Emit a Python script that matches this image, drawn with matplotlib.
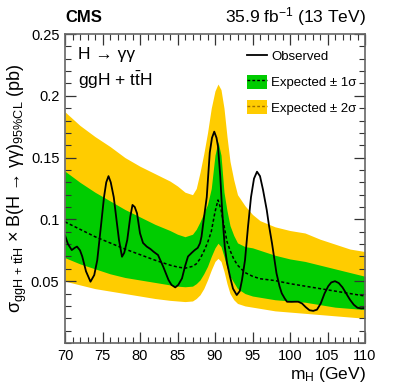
import numpy as np
import matplotlib
matplotlib.use('Agg')
import matplotlib.pyplot as plt
from matplotlib.patches import Patch
from matplotlib.lines import Line2D
from matplotlib.ticker import MultipleLocator

plt.rcParams['font.family'] = ['Liberation Sans', 'DejaVu Sans']
plt.rcParams['mathtext.fontset'] = 'custom'
plt.rcParams['mathtext.rm'] = 'Liberation Sans'
plt.rcParams['mathtext.it'] = 'Liberation Sans:italic'
plt.rcParams['mathtext.bf'] = 'Liberation Sans:bold'

# expected limit bands
band_mass = [70, 72, 74, 76, 78, 80, 82, 84, 85, 86, 87, 87.5, 88, 88.5, 89, 89.5, 90, 90.4,
             90.8, 91.2, 91.6, 92, 92.5, 93, 94, 95, 96, 98, 100, 102, 104, 106, 108, 110]
two_sigma_up = [0.187, 0.176, 0.167, 0.159, 0.150, 0.143, 0.137, 0.131, 0.127, 0.122, 0.120, 0.125,
                0.138, 0.153, 0.170, 0.190, 0.204, 0.2095, 0.205, 0.190, 0.167, 0.147, 0.132, 0.120,
                0.111, 0.104, 0.099, 0.094, 0.091, 0.089, 0.084, 0.080, 0.076, 0.074]
one_sigma_up = [0.139, 0.130, 0.122, 0.115, 0.108, 0.102, 0.096, 0.091, 0.088, 0.086, 0.088, 0.092,
                0.098, 0.105, 0.112, 0.125, 0.152, 0.163, 0.152, 0.122, 0.107, 0.095, 0.087, 0.081,
                0.078, 0.077, 0.075, 0.071, 0.068, 0.066, 0.063, 0.060, 0.057, 0.054]
expected = [0.098, 0.092, 0.086, 0.081, 0.076, 0.0715, 0.067, 0.063, 0.0615, 0.0605, 0.062, 0.064,
            0.068, 0.074, 0.081, 0.090, 0.106, 0.1157, 0.108, 0.095, 0.082, 0.075, 0.068, 0.063,
            0.057, 0.054, 0.052, 0.0505, 0.048, 0.046, 0.044, 0.042, 0.040, 0.038]
one_sigma_down = [0.069, 0.064, 0.060, 0.056, 0.053, 0.051, 0.049, 0.047, 0.046, 0.0455, 0.046, 0.048,
                  0.051, 0.056, 0.062, 0.070, 0.077, 0.0807, 0.078, 0.070, 0.061, 0.054, 0.049, 0.044,
                  0.040, 0.038, 0.037, 0.035, 0.034, 0.033, 0.031, 0.029, 0.028, 0.027]
two_sigma_down = [0.050, 0.047, 0.044, 0.042, 0.040, 0.038, 0.036, 0.0345, 0.034, 0.0335, 0.034, 0.036,
                  0.039, 0.044, 0.051, 0.059, 0.066, 0.0685, 0.066, 0.058, 0.048, 0.040, 0.035, 0.032,
                  0.030, 0.029, 0.028, 0.026, 0.025, 0.024, 0.023, 0.022, 0.021, 0.020]

# observed limit
obs_mass = [70.0, 70.4, 70.9, 71.3, 71.6, 72.0, 72.3, 72.8, 73.4, 73.9, 74.3, 74.8, 75.2, 75.5, 75.8,
            76.1, 76.5, 76.9, 77.2, 77.6, 77.9, 78.3, 78.7, 79.0, 79.3, 79.6, 80.0, 80.4, 80.9, 81.4,
            81.8, 82.4, 83.1, 83.8, 84.2, 84.7, 85.1, 85.6, 86.0, 86.4, 86.9, 87.3, 87.7, 88.0, 88.2,
            88.5, 88.9, 89.3, 89.6, 89.9, 90.2, 90.4, 90.7, 90.9, 91.1, 91.3, 91.6, 92.0, 92.4, 92.9,
            93.3, 93.6, 94.0, 94.4, 94.8, 95.2, 95.6, 96.0, 96.4, 96.9, 97.2, 97.6, 98.2, 98.6, 98.9,
            99.3, 99.6, 100.2, 100.7, 101.1, 101.6, 102.1, 102.6, 103.1, 103.6, 104.1, 104.6, 105.1,
            105.5, 106.0, 106.5, 107.0, 107.5, 108.0, 108.5, 109.0, 109.5, 110.0]
observed = [0.087, 0.080, 0.0752, 0.077, 0.078, 0.075, 0.070, 0.058, 0.0496, 0.055, 0.067, 0.095, 0.118,
            0.130, 0.135, 0.130, 0.118, 0.098, 0.0833, 0.0698, 0.073, 0.0833, 0.102, 0.1117, 0.110,
            0.105, 0.0888, 0.081, 0.078, 0.076, 0.0739, 0.0712, 0.0617, 0.051, 0.047, 0.045, 0.047,
            0.0523, 0.062, 0.070, 0.073, 0.0752, 0.077, 0.0807, 0.086, 0.100, 0.118, 0.154, 0.166,
            0.171, 0.166, 0.159, 0.135, 0.113, 0.094, 0.078, 0.065, 0.0537, 0.044, 0.0388, 0.042,
            0.051, 0.067, 0.094, 0.118, 0.133, 0.1386, 0.135, 0.124, 0.1076, 0.095, 0.0807, 0.0564,
            0.046, 0.0402, 0.036, 0.0334, 0.0333, 0.0334, 0.0334, 0.032, 0.029, 0.0265, 0.026, 0.027,
            0.032, 0.040, 0.046, 0.049, 0.050, 0.0485, 0.045, 0.040, 0.035, 0.031, 0.0285, 0.028, 0.0283]

YELLOW = '#ffcc00'
GREEN = '#00cc00'
DOTTED = (0, (2, 1.5))


def style_axes(ax):
	ax.set_xlim(70, 110)
	ax.set_ylim(0, 0.25)
	ax.xaxis.set_major_locator(MultipleLocator(5))
	ax.xaxis.set_minor_locator(MultipleLocator(1))
	ax.yaxis.set_minor_locator(MultipleLocator(0.01))
	ax.set_yticks([0.05, 0.1, 0.15, 0.2, 0.25])
	ax.set_yticklabels(['0.05', '0.1', '0.15', '0.2', '0.25'])
	ax.tick_params(which='both', direction='in', top=True, right=True, labelsize=10.5, color='0.2')
	ax.tick_params(which='major', length=8, width=0.9, pad=4)
	ax.tick_params(which='minor', length=4, width=0.8)
	for spine in ax.spines.values():
		spine.set_color('0.4')
		spine.set_linewidth(1.2)


def main() -> None:
	fig = plt.figure(figsize=(4.07, 3.91), dpi=100)
	ax = fig.add_axes([65 / 407, 48 / 391, 300 / 407, 309 / 391])

	ax.fill_between(band_mass, two_sigma_down, two_sigma_up, color=YELLOW, lw=0)
	ax.fill_between(band_mass, one_sigma_down, one_sigma_up, color=GREEN, lw=0)
	ax.plot(band_mass, expected, color='black', lw=1.1, linestyle=DOTTED)
	ax.plot(obs_mass, observed, color='black', lw=1.3)

	style_axes(ax)

	handles = [
		Line2D([], [], color='black', lw=1.3),
		(Patch(color=GREEN, lw=0), Line2D([], [], color='black', lw=1.0, linestyle=DOTTED)),
		(Patch(color=YELLOW, lw=0), Line2D([], [], color='#a07000', lw=1.0, linestyle=DOTTED)),
	]
	labels = ['Observed', 'Expected ± 1σ', 'Expected ± 2σ']
	fig.legend(handles, labels, loc='upper left', bbox_to_anchor=(247 / 407, 1 - 49 / 391),
		frameon=False, fontsize=9.5, handlelength=1.5, handleheight=1.25, labelspacing=0.85,
		handletextpad=0.35, borderpad=0, borderaxespad=0)

	fig.text(65 / 407, 1 - 17 / 391, 'CMS', fontsize=12, fontweight='bold', ha='left', va='center')
	fig.text(366 / 407, 1 - 17 / 391, '35.9 fb$^{-1}$ (13 TeV)', fontsize=12.5, ha='right', va='center')
	ax.text(0.045, 0.935, 'H → γγ', transform=ax.transAxes, fontsize=12.5, ha='left', va='center')
	ax.text(0.045, 0.85, r'ggH + $\mathrm{t\bar{t}}$H', transform=ax.transAxes, fontsize=12.5,
		ha='left', va='center')

	fig.text(17 / 407, 1 - 188 / 391,
		r'σ$_{\mathrm{ggH\,+\,t\bar{t}H}}$ × B(H → γγ)$_{\mathrm{95\%CL}}$ (pb)',
		rotation=90, fontsize=13, ha='center', va='center')
	fig.text(366 / 407, 1 - 375 / 391, r'm$_{\mathrm{H}}$ (GeV)', fontsize=12.5, ha='right', va='center')

	fig.savefig('out.png', dpi=100)


if __name__ == '__main__':
	main()
